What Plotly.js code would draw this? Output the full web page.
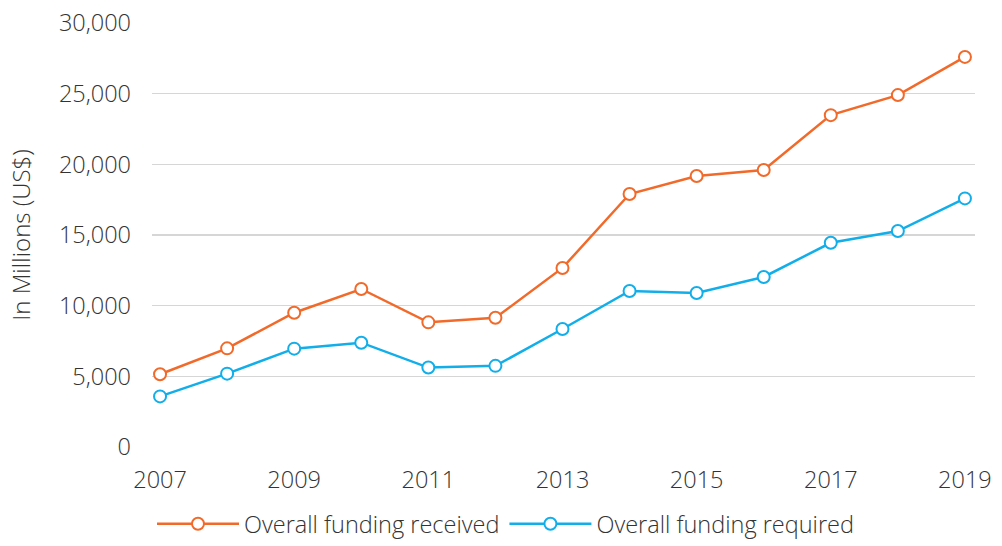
<!DOCTYPE html>
<html>
<head>
<meta charset="utf-8">
<script src="https://cdn.plot.ly/plotly-3.0.1.min.js"></script>
<style>html,body{margin:0;padding:0;background:#fff;}#chart{width:1002px;height:546px;}</style>
</head>
<body>
<div id="chart"></div>
<script>
var years = [2007, 2008, 2009, 2010, 2011, 2012, 2013, 2014, 2015, 2016, 2017, 2018, 2019];
var fundingReceived = [5150, 6980, 9500, 11180, 8820, 9140, 12670, 17900, 19170, 19600, 23480, 24900, 27600];
var fundingRequired = [3580, 5190, 6960, 7380, 5620, 5740, 8350, 11040, 10900, 12030, 14450, 15280, 17590];
var seriesNames = ["Overall funding received", "Overall funding required"];
var xTickVals = [2007, 2009, 2011, 2013, 2015, 2017, 2019];
var yTickVals = [0, 5000, 10000, 15000, 20000, 25000, 30000];

var FONT = "'Open Sans', Roboto, 'Liberation Sans', Arial, sans-serif";
var TXT = "#333333";
var orange = "#F26A2A", blue = "#12AEEA";

function trace(y, name, color) {
  return {
    x: years, y: y, name: name, type: "scatter", mode: "lines+markers",
    line: {color: color, width: 2.5},
    marker: {symbol: "circle", size: 12, color: "#ffffff", line: {color: color, width: 2}},
    cliponaxis: false
  };
}

var data = [
  trace(fundingReceived, seriesNames[0], orange),
  trace(fundingRequired, seriesNames[1], blue)
];

var layout = {
  width: 1002, height: 546,
  margin: {l: 152, r: 27, t: 23, b: 99},
  paper_bgcolor: "#ffffff", plot_bgcolor: "#ffffff",
  font: {family: FONT, size: 23.5, color: TXT, weight: 300},
  showlegend: true,
  legend: {
    orientation: "h", x: 0, xanchor: "left",
    yref: "container", y: -0.04, yanchor: "bottom",
    bgcolor: "rgba(0,0,0,0)",
    font: {family: FONT, size: 23.5, color: TXT, weight: 300},
    itemwidth: 82, tracegroupgap: 0
  },
  xaxis: {
    range: [2006.88, 2019.15], tickvals: xTickVals, ticktext: xTickVals.map(String),
    showgrid: false, zeroline: false, showline: false, ticks: "",
    ticklabelstandoff: 16,
    tickfont: {family: FONT, size: 23.5, color: TXT, weight: 300}
  },
  yaxis: {
    range: [0, 30000], tickvals: yTickVals, tickformat: ",d",
    showgrid: true, gridcolor: "#d6d6d6", gridwidth: 1.3,
    zeroline: false, showline: false, ticks: "",
    ticklabelstandoff: 20,
    tickfont: {family: FONT, size: 23.5, color: TXT, weight: 300},
    title: {text: "In Millions (US$)", standoff: 21, font: {family: FONT, size: 24, color: TXT, weight: 300}}
  }
};

Plotly.newPlot("chart", data, layout, {displayModeBar: false, staticPlot: true});
</script>
</body>
</html>
